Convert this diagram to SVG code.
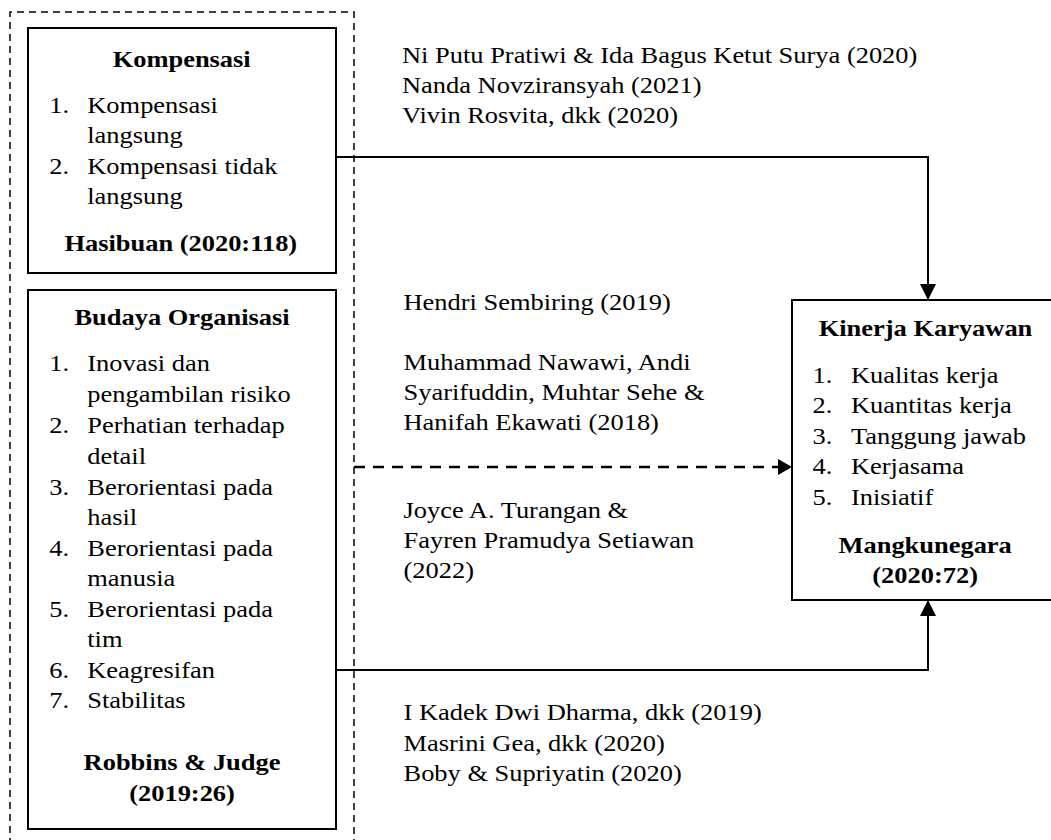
<svg xmlns="http://www.w3.org/2000/svg" width="1051" height="840" viewBox="0 0 1051 840">
<style>
  .box{fill:#fff;stroke:#000;stroke-width:2}
  .t{font-family:"Liberation Serif","Times New Roman",serif;font-size:23px;fill:#000}
  .b{font-weight:bold}
  .c{text-anchor:middle}
  .conn{fill:none;stroke:#000;stroke-width:2}
  .dash{stroke-dasharray:11 8;stroke-width:2.5}
</style>
<defs>
  <marker id="arr" viewBox="0 0 16 16" refX="16" refY="8" markerWidth="16" markerHeight="16" markerUnits="userSpaceOnUse" orient="auto">
    <path d="M0,0 L16,8 L0,16 z" fill="#000"/>
  </marker>
  <marker id="arrs" viewBox="0 0 14 16" refX="14" refY="8" markerWidth="14" markerHeight="16" markerUnits="userSpaceOnUse" orient="auto">
    <path d="M0,0 L14,8 L0,16 z" fill="#000"/>
  </marker>
</defs>
<rect width="1051" height="840" fill="#fff"/>

<g id="group-independent">
  <path d="M10,845 V12 H354 V845" fill="none" stroke="#000" stroke-width="1.5" stroke-dasharray="7 5"/>
</g>

<g id="connectors">
  <path class="conn" d="M336,157 H928 V300" marker-end="url(#arr)"/>
  <path class="conn dash" d="M354,467 H792" marker-end="url(#arrs)"/>
  <path class="conn" d="M336,670 H928 V600" marker-end="url(#arr)"/>
</g>

<g id="node-kompensasi">
  <rect class="box" x="28" y="28" width="308" height="245"/>
  <g transform="scale(1.15,1)">
    <text class="t b c" x="158" y="67">Kompensasi</text>
    <text class="t" x="42.9" y="113">1.</text>
    <text class="t" x="75.9" y="113">Kompensasi</text>
    <text class="t" x="75.9" y="143.5">langsung</text>
    <text class="t" x="42.9" y="174.5">2.</text>
    <text class="t" x="75.9" y="174.5">Kompensasi tidak</text>
    <text class="t" x="75.9" y="204.5">langsung</text>
    <text class="t b c" x="157.2" y="251">Hasibuan (2020:118)</text>
  </g>
</g>

<g id="node-budaya">
  <rect class="box" x="28" y="290" width="308" height="539"/>
  <g transform="scale(1.15,1)">
    <text class="t b c" x="158.3" y="325">Budaya Organisasi</text>
    <text class="t" x="42.9" y="371.5">1.</text>
    <text class="t" x="75.9" y="371.5">Inovasi dan</text>
    <text class="t" x="75.9" y="402.5">pengambilan risiko</text>
    <text class="t" x="42.9" y="433">2.</text>
    <text class="t" x="75.9" y="433">Perhatian terhadap</text>
    <text class="t" x="75.9" y="464">detail</text>
    <text class="t" x="42.9" y="495">3.</text>
    <text class="t" x="75.9" y="495">Berorientasi pada</text>
    <text class="t" x="75.9" y="525.5">hasil</text>
    <text class="t" x="42.9" y="556.5">4.</text>
    <text class="t" x="75.9" y="556.5">Berorientasi pada</text>
    <text class="t" x="75.9" y="586.5">manusia</text>
    <text class="t" x="42.9" y="617">5.</text>
    <text class="t" x="75.9" y="617">Berorientasi pada</text>
    <text class="t" x="75.9" y="647.5">tim</text>
    <text class="t" x="42.9" y="678">6.</text>
    <text class="t" x="75.9" y="678">Keagresifan</text>
    <text class="t" x="42.9" y="708.5">7.</text>
    <text class="t" x="75.9" y="708.5">Stabilitas</text>
    <text class="t b c" x="158.3" y="770">Robbins &amp; Judge</text>
    <text class="t b c" x="158.3" y="801">(2019:26)</text>
  </g>
</g>

<g id="node-kinerja">
  <rect class="box" x="792" y="300" width="270" height="300"/>
  <g transform="scale(1.15,1)">
    <text class="t b c" x="804.8" y="336.5">Kinerja Karyawan</text>
    <text class="t" x="706.6" y="383">1.</text>
    <text class="t" x="740" y="383">Kualitas kerja</text>
    <text class="t" x="706.6" y="413.5">2.</text>
    <text class="t" x="740" y="413.5">Kuantitas kerja</text>
    <text class="t" x="706.6" y="444">3.</text>
    <text class="t" x="740" y="444">Tanggung jawab</text>
    <text class="t" x="706.6" y="474.5">4.</text>
    <text class="t" x="740" y="474.5">Kerjasama</text>
    <text class="t" x="706.6" y="505">5.</text>
    <text class="t" x="740" y="505">Inisiatif</text>
    <text class="t b c" x="804.5" y="553">Mangkunegara</text>
    <text class="t b c" x="804.5" y="583.5">(2020:72)</text>
  </g>
</g>

<g id="labels-kompensasi">
  <g transform="scale(1.15,1)">
    <text class="t" x="349.6" y="63">Ni Putu Pratiwi &amp; Ida Bagus Ketut Surya (2020)</text>
    <text class="t" x="349.6" y="93">Nanda Novziransyah (2021)</text>
    <text class="t" x="349.6" y="123">Vivin Rosvita, dkk (2020)</text>
  </g>
</g>

<g id="labels-simultan">
  <g transform="scale(1.15,1)">
    <text class="t" x="350.9" y="310">Hendri Sembiring (2019)</text>
    <text class="t" x="350.9" y="370">Muhammad Nawawi, Andi</text>
    <text class="t" x="350.9" y="400.5">Syarifuddin, Muhtar Sehe &amp;</text>
    <text class="t" x="350.9" y="430.5">Hanifah Ekawati (2018)</text>
    <text class="t" x="350.9" y="518">Joyce A. Turangan &amp;</text>
    <text class="t" x="350.9" y="548">Fayren Pramudya Setiawan</text>
    <text class="t" x="350.9" y="578">(2022)</text>
  </g>
</g>

<g id="labels-budaya">
  <g transform="scale(1.15,1)">
    <text class="t" x="350.9" y="720.5">I Kadek Dwi Dharma, dkk (2019)</text>
    <text class="t" x="350.9" y="751.5">Masrini Gea, dkk (2020)</text>
    <text class="t" x="350.9" y="781.5">Boby &amp; Supriyatin (2020)</text>
  </g>
</g>
</svg>
